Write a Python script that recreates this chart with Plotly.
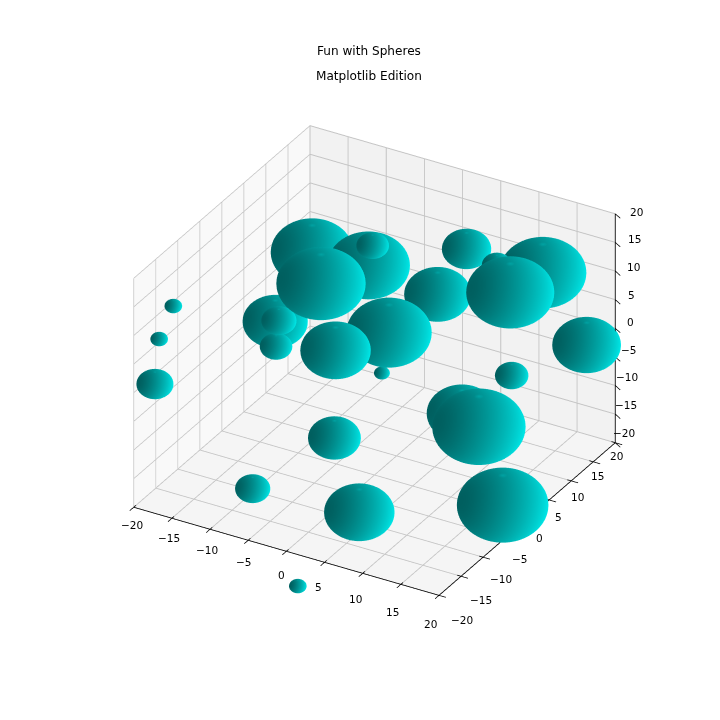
import numpy as np
import plotly.graph_objects as go

# sphere centres and radii
cx = [-15.1, -5.4, -1.4, -4.7, 3.4, 12.8, 9.1, 14.9, 2.5, 17.4, -15.9, -10.8, -12.9, 1.9, 0.67, -4.8, 12.2, -17.7, -18.4, -17.8, 10.3, 18.3, -0.63, -7.3, 6.67, 19.1, 1.5]
cy = [12, 8, 2, -4, 15, 16, 12, 5, 10, 18, 5, -3, 0, 0, -10, 10, 10, -15, -17, -19, 2, -8, -8, -15, -15, -4, -20]
cz = [5.1, 9.2, 18.2, 14.3, 10.8, 9.6, 12.2, 14.3, 5.85, -2.6, -2.65, 4.8, -2.5, 5.6, 8.7, -10.7, -4.6, 12.7, 8.0, 1.7, -6.6, 0.8, -8.44, -15.2, -13.95, -15.25, -25.5]
radii = [4.7, 4.7, 1.85, 5.07, 2.8, 4.96, 1.7, 5.0, 3.8, 3.9, 3.7, 2.0, 1.85, 4.85, 4.0, 0.9, 1.9, 1.0, 1.0, 2.1, 4.0, 5.3, 3.0, 2.0, 4.0, 5.2, 1.0]

title_lines = ["Fun with Spheres", "Matplotlib Edition"]
tick_values = [-20, -15, -10, -5, 0, 5, 10, 15, 20]
tick_text = [str(t).replace("-", "\u2212") for t in tick_values]

DIST = 2.47
azim, elev = np.radians(-60), np.radians(30)
eye = dict(x=DIST*np.cos(elev)*np.cos(azim), y=DIST*np.cos(elev)*np.sin(azim), z=DIST*np.sin(elev))

light = np.array([-0.667, -0.667, 0.333])
u = np.linspace(0, 2*np.pi, 61)
v = np.linspace(0, np.pi, 31)
nx = np.outer(np.cos(u), np.sin(v))
ny = np.outer(np.sin(u), np.sin(v))
nz = np.outer(np.ones_like(u), np.cos(v))
shade = -(nx*light[0] + ny*light[1] + nz*light[2])
shade_n = 0.3 + 0.7*(shade + 1)/2
shade_n[:, 0] = 0.62  # the pole facets catch a little light

fig = go.Figure()
for a, b, c, r in zip(cx, cy, cz, radii):
    fig.add_trace(go.Surface(x=a + r*nx, y=b + r*ny, z=c + r*nz, surfacecolor=shade_n,
                             cmin=0.3, cmax=1.0,
                             colorscale=[[0, "rgb(0,95,95)"], [1, "rgb(0,242,242)"]],
                             showscale=False, hoverinfo="skip", scene="scene2",
                             lighting=dict(ambient=1, diffuse=0, specular=0, roughness=1, fresnel=0)))

def seg(xs, ys, zs):
    fig.add_trace(go.Scatter3d(x=xs, y=ys, z=zs, mode="lines", line=dict(color="black", width=1.5),
                               hoverinfo="skip", scene="scene2"))

# axis lines and ticks live in the unclipped overlay scene
seg([20, 20], [20, 20], [-20, 20])
seg([-20, 20], [-20, -20], [-20, -20])
seg([20, 20], [-20, 20], [-20, -20])
for t in tick_values:
    seg([20, 21.0], [20, 19.4], [t, t])
    seg([t, t], [-19.5, -20.9], [-20, -20])
    seg([19.5, 20.9], [t, t], [-20, -20])
fig.add_trace(go.Scatter3d(x=[-20, 20], y=[-20, 20], z=[-20, 20], mode="markers",
                           marker=dict(size=0.1, opacity=0), hoverinfo="skip", scene="scene"))

def ax(bg):
    return dict(range=[-20, 20], tickvals=tick_values, ticktext=tick_text,
                showbackground=True, backgroundcolor=bg, gridcolor="#c4c4c4", gridwidth=2,
                showline=False, ticks="", zeroline=False, showspikes=False, title=dict(text=""),
                showticklabels=False)

def hidden():
    return dict(range=[-40, 40], visible=False, showspikes=False)

def label(x, y, z, text, dx, dy):
    return dict(x=x, y=y, z=z, text=text, showarrow=False, xshift=dx, yshift=dy, xanchor="center", yanchor="middle",
                font=dict(family="DejaVu Sans", size=10.5, color="black"))

scene_labels = []
for t, s in zip(tick_values, tick_text):
    scene_labels.append(label(t, -20, -20, s, -5.5 - 0.175*t, -23.5 - 0.275*t))
    scene_labels.append(label(20, t, -20, s, 12 - 0.55*t, -19 + 0.3*t))
    scene_labels.append(label(20, 20, t, s, 15 + 0.3*t, 6 - 0.2*t))

W = 712
dom = dict(x=[0.03, 1.0], y=[0.01, 1.0])
cam = dict(eye=eye, center=dict(x=0, y=0, z=0), up=dict(x=0, y=0, z=1), projection=dict(type="orthographic"))
fig.update_layout(
    width=W, height=W, margin=dict(l=0, r=0, t=0, b=0), paper_bgcolor="white", showlegend=False,
    scene=dict(domain=dom, camera=cam, aspectmode="manual", aspectratio=dict(x=1, y=1, z=0.75),
               xaxis=ax("#f9f9f9"), yaxis=ax("#f2f2f2"), zaxis=ax("#f5f5f5"), annotations=scene_labels),
    scene2=dict(domain=dom, camera=cam, aspectmode="manual", aspectratio=dict(x=2, y=2, z=1.5),
                xaxis=hidden(), yaxis=hidden(), zaxis=hidden(), bgcolor="rgba(0,0,0,0)"),
)
for t, py in zip(title_lines, [51, 76]):
    fig.add_annotation(text=t, x=(369-8)/W, y=1-(py-8)/W, xref="paper", yref="paper", showarrow=False,
                       xanchor="center", yanchor="middle", font=dict(family="DejaVu Sans", size=12.1, color="black"))
fig.write_html("out.html")
